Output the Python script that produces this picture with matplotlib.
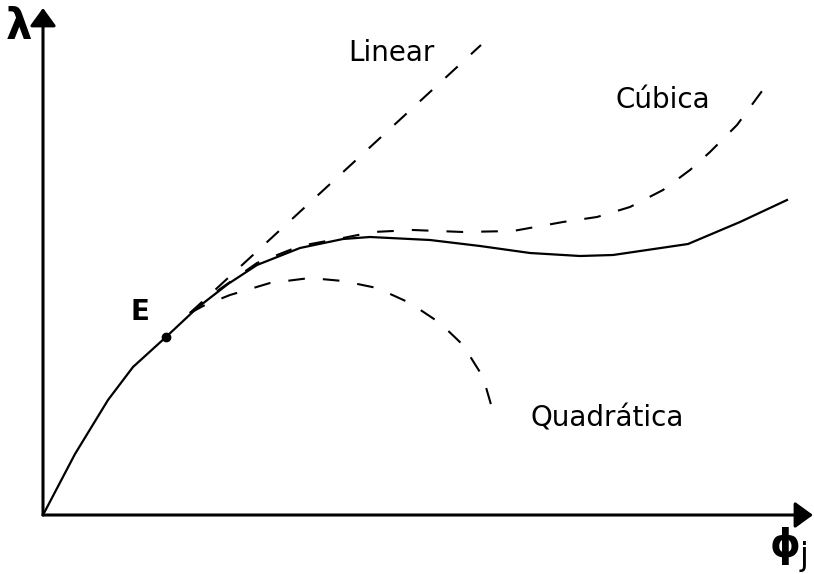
import matplotlib
matplotlib.use("Agg")
import matplotlib.pyplot as plt

# Curve data (phi_j, lambda) in arbitrary units, origin at the axes corner
solid_phi = [0, 32, 65, 90, 123, 154, 185, 214, 257, 300, 327, 387, 437, 487, 537, 570, 645, 697, 744]
solid_lam = [0, 61, 115, 148, 178, 207, 231, 250, 267, 276, 278, 275, 269, 262, 259, 260, 271, 293, 315]

point_e = (123, 178)

linear_phi = [147, 438]
linear_lam = [202, 470]

quad_phi = [147, 162, 187, 227, 267, 300, 334, 367, 397, 420, 440, 449]
quad_lam = [202, 210, 220, 232, 237, 234, 227, 212, 192, 170, 138, 107]

cubic_phi = [147, 177, 214, 257, 300, 330, 370, 420, 470, 520, 554, 587, 620, 647, 667, 694, 722]
cubic_lam = [202, 226, 252, 269, 277, 283, 285, 283, 284, 293, 298, 308, 325, 345, 363, 390, 428]

plt.rcParams["lines.scale_dashes"] = False
plt.rcParams["font.family"] = ["DejaVu Sans"]

fig = plt.figure(figsize=(8.14, 5.74), dpi=100)
ax = fig.add_axes([0, 0, 1, 1])
ax.set_xlim(-43, 771)
ax.set_ylim(-59, 515)
ax.axis("off")

# axes with arrow heads
arrow = dict(arrowstyle="-|>,head_length=0.55,head_width=0.4", lw=2.2,
             color="black", mutation_scale=20, shrinkA=0, shrinkB=0)
ax.annotate("", xy=(0, 507), xytext=(0, 0), arrowprops=arrow)
ax.annotate("", xy=(770, 0), xytext=(0, 0), arrowprops=arrow)

dash = (0, (12, 13))
ax.plot(solid_phi, solid_lam, color="black", lw=1.6, solid_joinstyle="round")
ax.plot(linear_phi, linear_lam, color="black", lw=1.5, linestyle=dash)
ax.plot(quad_phi, quad_lam, color="black", lw=1.5, linestyle=dash)
ax.plot(cubic_phi, cubic_lam, color="black", lw=1.5, linestyle=dash)
ax.plot(*point_e, "o", color="black", ms=6)

txt = dict(fontsize=20, ha="center", va="center", color="black")
ax.text(348, 462, "Linear", **txt)
ax.text(620, 415, "Cúbica", **txt)
ax.text(564, 97, "Quadrática", **txt)
ax.text(97, 203, "E", fontsize=20, fontweight="bold", ha="center", va="center")

ax.text(-24, 488, "λ", fontsize=30, fontweight="bold", ha="center", va="center")
ax.text(742, -31, "ϕ", fontsize=28, fontweight="bold", ha="center", va="center")
ax.text(761, -41, "j", fontsize=23, ha="center", va="center")

fig.savefig("out.png", dpi=100)
